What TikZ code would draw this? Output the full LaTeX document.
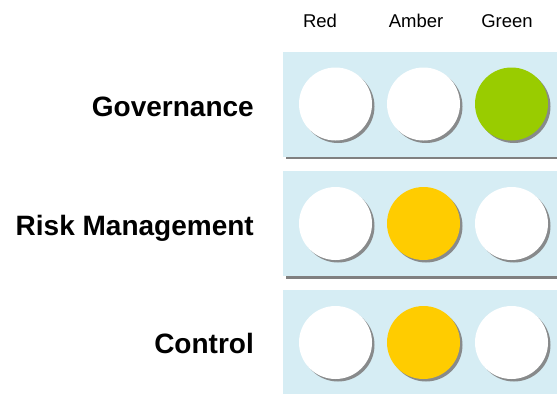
\documentclass[tikz,border=0pt]{standalone}
\usepackage{fontspec}
\setmainfont{Liberation Sans}
\definecolor{panelblue}{HTML}{D6EDF4}
\definecolor{lampgreen}{HTML}{99CC00}
\definecolor{lampamber}{HTML}{FFCC00}
\definecolor{shadowgray}{HTML}{808080}
\begin{document}
\begin{tikzpicture}[x=1pt,y=-1pt,
  rowlabel/.style={anchor=base east,inner sep=0pt,font=\fontsize{28}{32}\selectfont\bfseries},
  colhead/.style={anchor=base,inner sep=0pt,font=\fontsize{18.5}{22}\selectfont},
  lamp/.style={circle,minimum size=73pt,inner sep=0pt,fill=#1},
  lampshadow/.style={circle,minimum size=73pt,inner sep=0pt,fill=shadowgray,opacity=0.9},
  panel/.style={fill=panelblue},
  baseline/.style={draw=shadowgray,line width=2.7pt}]
\useasboundingbox (0,0) rectangle (557,394);
\fill[white] (0,0) rectangle (557,394);
% header
\node[colhead] (hRed) at (320,27.3) {Red};
\node[colhead] (hAmber) at (416,27.3) {Amber};
\node[colhead] (hGreen) at (507,27.3) {Green};
% panels
\fill[panel] (283,52) rectangle (557,157);
\draw[baseline] (286,158) -- (557,158);
\fill[panel] (283,171) rectangle (557,276);
\draw[baseline] (286,277.2) -- (557,277.2);
\fill[panel] (283,290) rectangle (557,394);
% labels
\node[rowlabel] (lGov) at (254,116) {Governance};
\node[rowlabel] (lRisk) at (254,235) {Risk Management};
\node[rowlabel] (lCtrl) at (254,353) {Control};
% lamps
\foreach \y/\r/\cA/\cB/\cC in {104/g/white/white/lampgreen, 223.5/r/white/lampamber/white, 342.5/c/white/lampamber/white}{
  \node[lampshadow] (s1\r) at (338,\y+2.5) {};
  \node[lampshadow] (s2\r) at (426,\y+2.5) {};
  \node[lampshadow] (s3\r) at (514,\y+2.5) {};
  \node[lamp=\cA] (a\r) at (335.5,\y) {};
  \node[lamp=\cB] (b\r) at (423.5,\y) {};
  \node[lamp=\cC] (c\r) at (511.5,\y) {};
}
\end{tikzpicture}
\end{document}
